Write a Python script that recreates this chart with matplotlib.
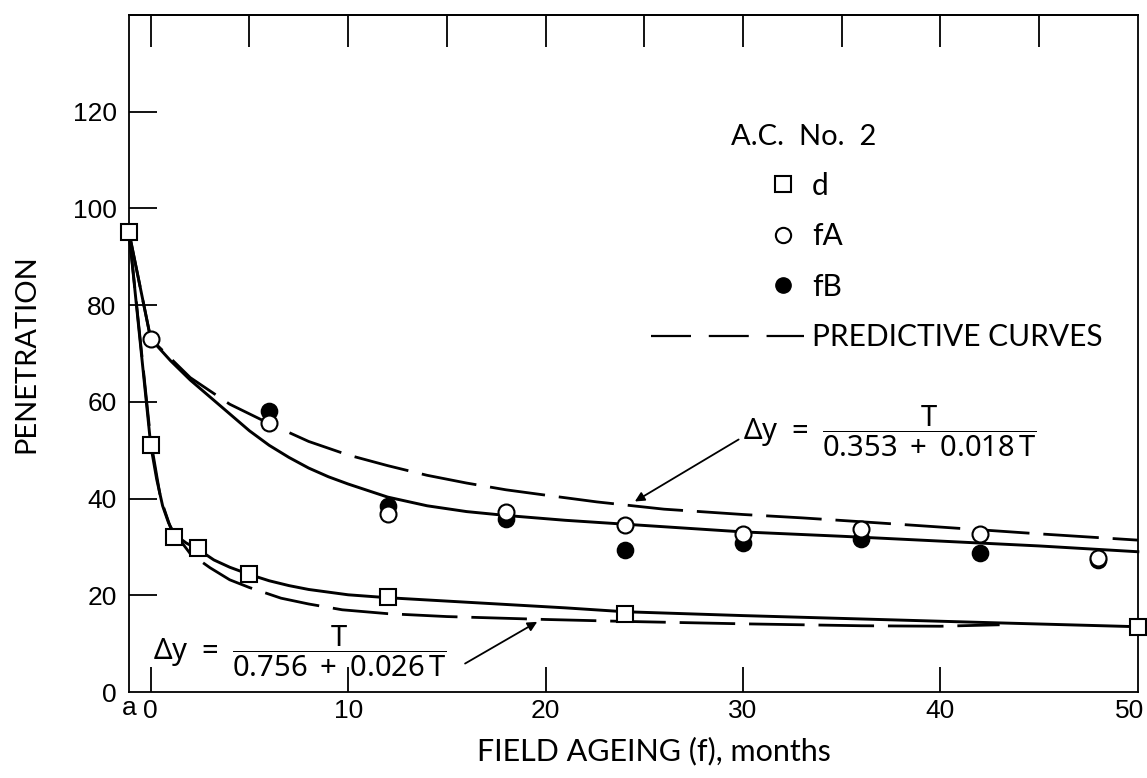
import matplotlib
matplotlib.use('Agg')
import matplotlib.pyplot as plt
import matplotlib.transforms as mtransforms
from matplotlib.lines import Line2D
from matplotlib.legend_handler import HandlerLine2D

A = -1.1  # position of the "a" (original asphalt) column

# observed data
months_d = [A, 0, 1.2, 2.4, 5, 12, 24, 50]
pen_d = [95, 51, 32, 29.8, 24.5, 19.6, 16.2, 13.5]
months_fA = [0, 6, 12, 18, 24, 30, 36, 42, 48]
pen_fA = [73, 55.6, 36.8, 37.2, 34.6, 32.7, 33.7, 32.7, 27.8]
months_fB = [6, 12, 18, 24, 30, 36, 42, 48]
pen_fB = [58, 38.5, 35.8, 29.4, 30.9, 31.7, 28.8, 27.2]

# fitted (solid) curves
fit_f_x = [A, 0, 1, 2, 3, 4, 5, 6, 7, 8, 9, 10, 12, 14, 16, 18, 21, 24, 27, 30, 35, 40, 45, 50]
fit_f_y = [95, 73, 68.5, 64.5, 61, 57.5, 54, 51, 48.5, 46.3, 44.5, 43, 40.3, 38.5, 37.3, 36.5,
           35.5, 34.7, 33.9, 33.1, 32.2, 31.2, 30.2, 29]
fit_d_x = [A, 0, 0.3, 0.6, 0.9, 1.2, 1.8, 2.4, 3.2, 4, 5, 6, 7, 8, 10, 12, 15, 18, 21, 24, 30, 36, 42, 50]
fit_d_y = [95, 51, 44, 38.5, 35, 32.6, 30.8, 29.5, 27.3, 25.8, 24.3, 23, 22, 21.2, 20.1, 19.5,
           18.8, 18.1, 17.4, 16.6, 15.8, 15.1, 14.4, 13.5]

# predictive (dashed) curves
pred_f_x = [A, 0, 2, 4, 6, 8, 10, 12, 14, 16, 18, 20, 22.6, 26, 30, 33, 36, 40, 45, 50]
pred_f_y = [95, 73, 65, 59.5, 55.5, 51.8, 49, 46.8, 44.8, 43.2, 41.8, 40.7, 39.3, 37.8, 36.7,
            36, 35.2, 34.1, 32.7, 31.4]
pred_d_x = [A, 0, 0.5, 1, 2, 3, 4, 5, 6.6, 8, 9.7, 12, 15, 20, 24, 30, 36, 40, 43]
pred_d_y = [95, 52, 40, 34, 28.6, 25.7, 23.2, 21.6, 19.4, 18.2, 17, 16.2, 15.6, 15, 14.6,
            14.1, 13.7, 13.6, 13.9]

x_ticks = [A, 0, 10, 20, 30, 40, 50]
x_labels = ['a', '0', '10', '20', '30', '40', '50']
top_ticks = [0, 5, 10, 15, 20, 25, 30, 35, 40, 45]
y_ticks = [0, 20, 40, 60, 80, 100, 120]

plt.rcParams['font.family'] = ['Lato', 'DejaVu Sans']
plt.rcParams['mathtext.fontset'] = 'custom'
plt.rcParams['mathtext.rm'] = 'Noto Sans'
plt.rcParams['mathtext.it'] = 'Noto Sans'
plt.rcParams['axes.linewidth'] = 1.3

fig = plt.figure(figsize=(11.47, 7.78), dpi=100)
ax = fig.add_axes([0.1125, 0.1105, 0.8795, 0.8705])

dash = (0, (20, 5))
ax.plot(fit_f_x, fit_f_y, color='black', lw=2.1, clip_on=False, zorder=2)
ax.plot(fit_d_x, fit_d_y, color='black', lw=2.1, clip_on=False, zorder=2)
ax.plot(pred_f_x, pred_f_y, color='black', lw=2.0, ls=dash, clip_on=False, zorder=2)
ax.plot(pred_d_x, pred_d_y, color='black', lw=2.0, ls=dash, clip_on=False, zorder=2)

ax.plot(months_fB, pen_fB, 'o', ms=11.5, mfc='black', mec='black', mew=1.2, zorder=3, clip_on=False)
ax.plot(months_fA, pen_fA, 'o', ms=11.5, mfc='white', mec='black', mew=1.5, zorder=4, clip_on=False)
ax.plot(months_d, pen_d, 's', ms=12, mfc='white', mec='black', mew=1.5, zorder=4, clip_on=False)

ax.set_xlim(A, 50)
ax.set_ylim(0, 140)

ax.set_xticks(x_ticks)
ax.set_xticklabels(x_labels, family=['Liberation Sans'], fontsize=19)
ax.set_yticks(y_ticks)
ax.set_yticklabels([str(v) for v in y_ticks], family=['Liberation Sans'], fontsize=19)
ax.tick_params(axis='x', direction='in', length=18, width=1.3, pad=5)
ax.tick_params(axis='y', direction='in', length=20, width=1.3, pad=9)
for i in (0, 6):
    ax.xaxis.get_major_ticks()[i].tick1line.set_visible(False)
ax.yaxis.get_major_ticks()[0].tick1line.set_visible(False)
# keep the "50" label inside the figure
last = ax.get_xticklabels()[-1]
last.set_transform(last.get_transform() + mtransforms.ScaledTranslation(-8 / 100, 0, fig.dpi_scale_trans))
first = ax.get_xticklabels()[0]
first.set_transform(first.get_transform() + mtransforms.ScaledTranslation(0, 3 / 100, fig.dpi_scale_trans))

top = ax.secondary_xaxis('top')
top.set_xticks(top_ticks)
top.set_xticklabels([])
top.tick_params(direction='in', length=23, width=1.3)

ax.set_xlabel('FIELD AGEING (f), months', fontsize=22, labelpad=10, x=0.52)
ax.set_ylabel('PENETRATION', fontsize=21, labelpad=24)

# legend
ax.text(0.597, 0.82, 'A.C.  No.  2', transform=ax.transAxes, fontsize=21, ha='left', va='center')


class RightMarker(HandlerLine2D):
    def get_xdata(self, legend, xdescent, ydescent, width, height, fontsize):
        pos = -xdescent + 0.86 * width
        return [pos, pos], [pos]


h_d = Line2D([], [], ls='none', marker='s', ms=11, mfc='white', mec='black', mew=1.5)
h_fA = Line2D([], [], ls='none', marker='o', ms=11, mfc='white', mec='black', mew=1.5)
h_fB = Line2D([], [], ls='none', marker='o', ms=11, mfc='black', mec='black')
h_pred = Line2D([], [], color='black', lw=1.6, ls=(0, (18, 8)))
handler = RightMarker(numpoints=1)
ax.legend([h_d, h_fA, h_fB, h_pred], ['d', 'fA', 'fB', 'PREDICTIVE CURVES'],
          handler_map={h_d: handler, h_fA: handler, h_fB: handler},
          loc='upper left', bbox_to_anchor=(0.517, 0.768), frameon=False,
          fontsize=21.5, handlelength=5.15, handletextpad=0.25, labelspacing=0.75,
          borderpad=0, borderaxespad=0)

# equations
ax.text(30.0, 53.9, r'$\mathrm{\Delta y\ =\ }\dfrac{\mathrm{T}}{\mathrm{0.353\;+\;0.018\,T}}$',
        fontsize=21, ha='left', va='center')
ax.annotate('', xy=(24.4, 39.1), xytext=(29.9, 52.5),
            arrowprops=dict(arrowstyle='-|>', color='black', lw=1.3, mutation_scale=14))
ax.text(0.1, 8.4, r'$\mathrm{\Delta y\ =\ }\dfrac{\mathrm{T}}{\mathrm{0.756\;+\;0.026\,T}}$',
        fontsize=21, ha='left', va='center')
ax.annotate('', xy=(19.7, 14.8), xytext=(15.8, 5.6),
            arrowprops=dict(arrowstyle='-|>', color='black', lw=1.3, mutation_scale=14))

fig.savefig('out.png', dpi=100)
